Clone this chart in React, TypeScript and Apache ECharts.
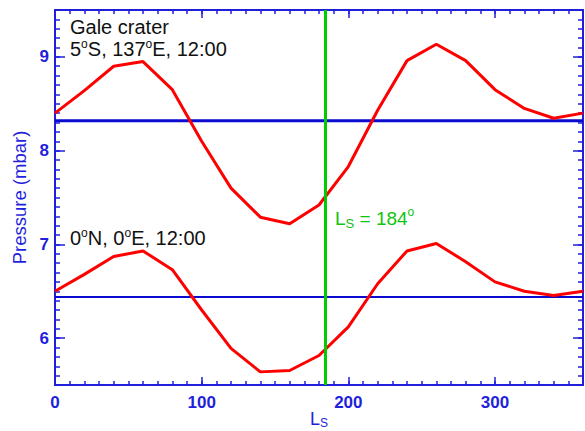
import React, { useEffect, useRef } from "react";
import * as echarts from "echarts";

// Solar longitude (deg)
const ls = [0, 20, 40, 60, 80, 100, 120, 140, 160, 180, 200, 220, 240, 260, 280, 300, 320, 340, 360];
// Gale crater 5S 137E 12:00 pressure (mbar)
const gale = [8.40, 8.64, 8.90, 8.95, 8.65, 8.10, 7.60, 7.29, 7.22, 7.42, 7.83, 8.43, 8.96, 9.135, 8.96, 8.65, 8.45, 8.345, 8.40];
// 0N 0E 12:00 pressure (mbar)
const equator = [6.50, 6.68, 6.87, 6.93, 6.73, 6.30, 5.89, 5.64, 5.655, 5.815, 6.12, 6.58, 6.93, 7.01, 6.815, 6.60, 6.50, 6.455, 6.50];
// annual means
const galeMean = 8.32;
const equatorMean = 6.44;
const lsMarker = 184;

const xMin = 0, xMax = 360;
const yMin = 5.5, yMax = 9.5;
const yMajorTicks = [6, 7, 8, 9];

const BLUE = "#1f1fdc";
const FONT = "Liberation Sans, Arial, sans-serif";

export default function App() {
  const ref = useRef<HTMLDivElement>(null);
  useEffect(() => {
    if (!ref.current) return;
    const chart = echarts.init(ref.current, undefined, { renderer: "svg" });

    const baseLine = { show: true, onZero: false, lineStyle: { color: BLUE, width: 2 } };
    const xAxisMaker = (pos: string, major: boolean) => ({
      type: "value",
      position: pos,
      min: xMin,
      max: xMax,
      interval: major ? 100 : 10,
      axisLine: baseLine,
      axisTick: { show: true, inside: true, length: major ? 8 : 4, lineStyle: { color: BLUE, width: 1.5 } },
      axisLabel: {
        show: major && pos === "bottom",
        color: BLUE,
        fontFamily: FONT,
        fontWeight: "bold",
        fontSize: 17,
        margin: 9,
        showMaxLabel: false,
      },
      splitLine: { show: false },
    });
    const yAxisMaker = (pos: string, major: boolean) => ({
      type: "value",
      position: pos,
      min: yMin,
      max: yMax,
      ...(major ? {} : { interval: 0.1 }),
      axisLine: baseLine,
      axisTick: {
        show: true,
        inside: true,
        length: major ? 10 : 5,
        lineStyle: { color: BLUE, width: 1.5 },
        ...(major ? { customValues: yMajorTicks } : {}),
      },
      axisLabel: {
        show: major && pos === "left",
        color: BLUE,
        fontFamily: FONT,
        fontWeight: "bold",
        fontSize: 17,
        margin: 6,
        ...(major ? { customValues: yMajorTicks } : {}),
      },
      splitLine: { show: false },
      ...(major && pos === "left"
        ? {
            name: "Pressure (mbar)",
            nameLocation: "middle",
            nameGap: 26,
            nameRotate: 90,
            nameTextStyle: { color: BLUE, fontFamily: FONT, fontSize: 18.5 },
          }
        : {}),
    });

    const sup = { fontSize: 12, verticalAlign: "top", lineHeight: 22, fontFamily: FONT };
    const norm = { fontSize: 20, lineHeight: 22, fontFamily: FONT };

    chart.setOption({
      animation: false,
      grid: { left: 55, right: 2, top: 10, bottom: 46, containLabel: false, outerBoundsMode: "none" },
      xAxis: [
        xAxisMaker("bottom", true),
        xAxisMaker("bottom", false),
        xAxisMaker("top", true),
        xAxisMaker("top", false),
      ],
      yAxis: [
        yAxisMaker("left", true),
        yAxisMaker("left", false),
        yAxisMaker("right", true),
        yAxisMaker("right", false),
      ],
      series: [
        {
          type: "line",
          xAxisIndex: 0,
          yAxisIndex: 0,
          data: [[xMin, galeMean], [xMax, galeMean]],
          symbol: "none",
          lineStyle: { color: "#0a0ad0", width: 3 },
          z: 2,
        },
        {
          type: "line",
          xAxisIndex: 0,
          yAxisIndex: 0,
          data: [[xMin, equatorMean], [xMax, equatorMean]],
          symbol: "none",
          lineStyle: { color: "#0a0ad0", width: 2 },
          z: 2,
        },
        {
          type: "line",
          xAxisIndex: 0,
          yAxisIndex: 0,
          data: ls.map((x, i) => [x, gale[i]]),
          symbol: "none",
          lineStyle: { color: "#ff0000", width: 3 },
          z: 3,
          markLine: {
            silent: true,
            symbol: "none",
            label: { show: false },
            lineStyle: { color: "#00cc00", width: 3, type: "solid" },
            data: [{ xAxis: lsMarker }],
          },
        },
        {
          type: "line",
          xAxisIndex: 0,
          yAxisIndex: 0,
          data: ls.map((x, i) => [x, equator[i]]),
          symbol: "none",
          lineStyle: { color: "#ff0000", width: 3 },
          z: 3,
        },
      ],
      graphic: [
        {
          type: "text",
          left: 70,
          top: 17,
          style: {
            text: "{n|Gale crater}\n{n|5}{s|o}{n|S, 137}{s|o}{n|E, 12:00}",
            fill: "#111",
            rich: { n: norm, s: sup },
          },
        },
        {
          type: "text",
          left: 70,
          top: 227,
          style: {
            text: "{n|0}{s|o}{n|N, 0}{s|o}{n|E, 12:00}",
            fill: "#111",
            rich: { n: norm, s: sup },
          },
        },
        {
          type: "text",
          left: 335,
          top: 206,
          style: {
            text: "{l|L}{ss|S}{n| = 184}{s|o}",
            fill: "#11c411",
            rich: {
              l: { fontSize: 19, lineHeight: 24, fontFamily: FONT, verticalAlign: "middle" },
              ss: { fontSize: 13, lineHeight: 24, fontFamily: FONT, verticalAlign: "bottom" },
              n: { fontSize: 19, lineHeight: 24, fontFamily: FONT, verticalAlign: "middle" },
              s: { fontSize: 12, lineHeight: 24, fontFamily: FONT, verticalAlign: "top" },
            },
          },
        },
        {
          type: "text",
          left: 310,
          top: 410,
          style: {
            text: "{l|L}{s|S}",
            fill: BLUE,
            rich: {
              l: { fontSize: 18, lineHeight: 19, fontFamily: FONT, verticalAlign: "top" },
              s: { fontSize: 12, lineHeight: 19, fontFamily: FONT, verticalAlign: "bottom" },
            },
          },
        },
      ],
    });
    return () => chart.dispose();
  }, []);
  return (
    <div
      ref={ref}
      style={{ position: "fixed", left: 0, top: 0, width: 585, height: 431, background: "#fff" }}
    />
  );
}
